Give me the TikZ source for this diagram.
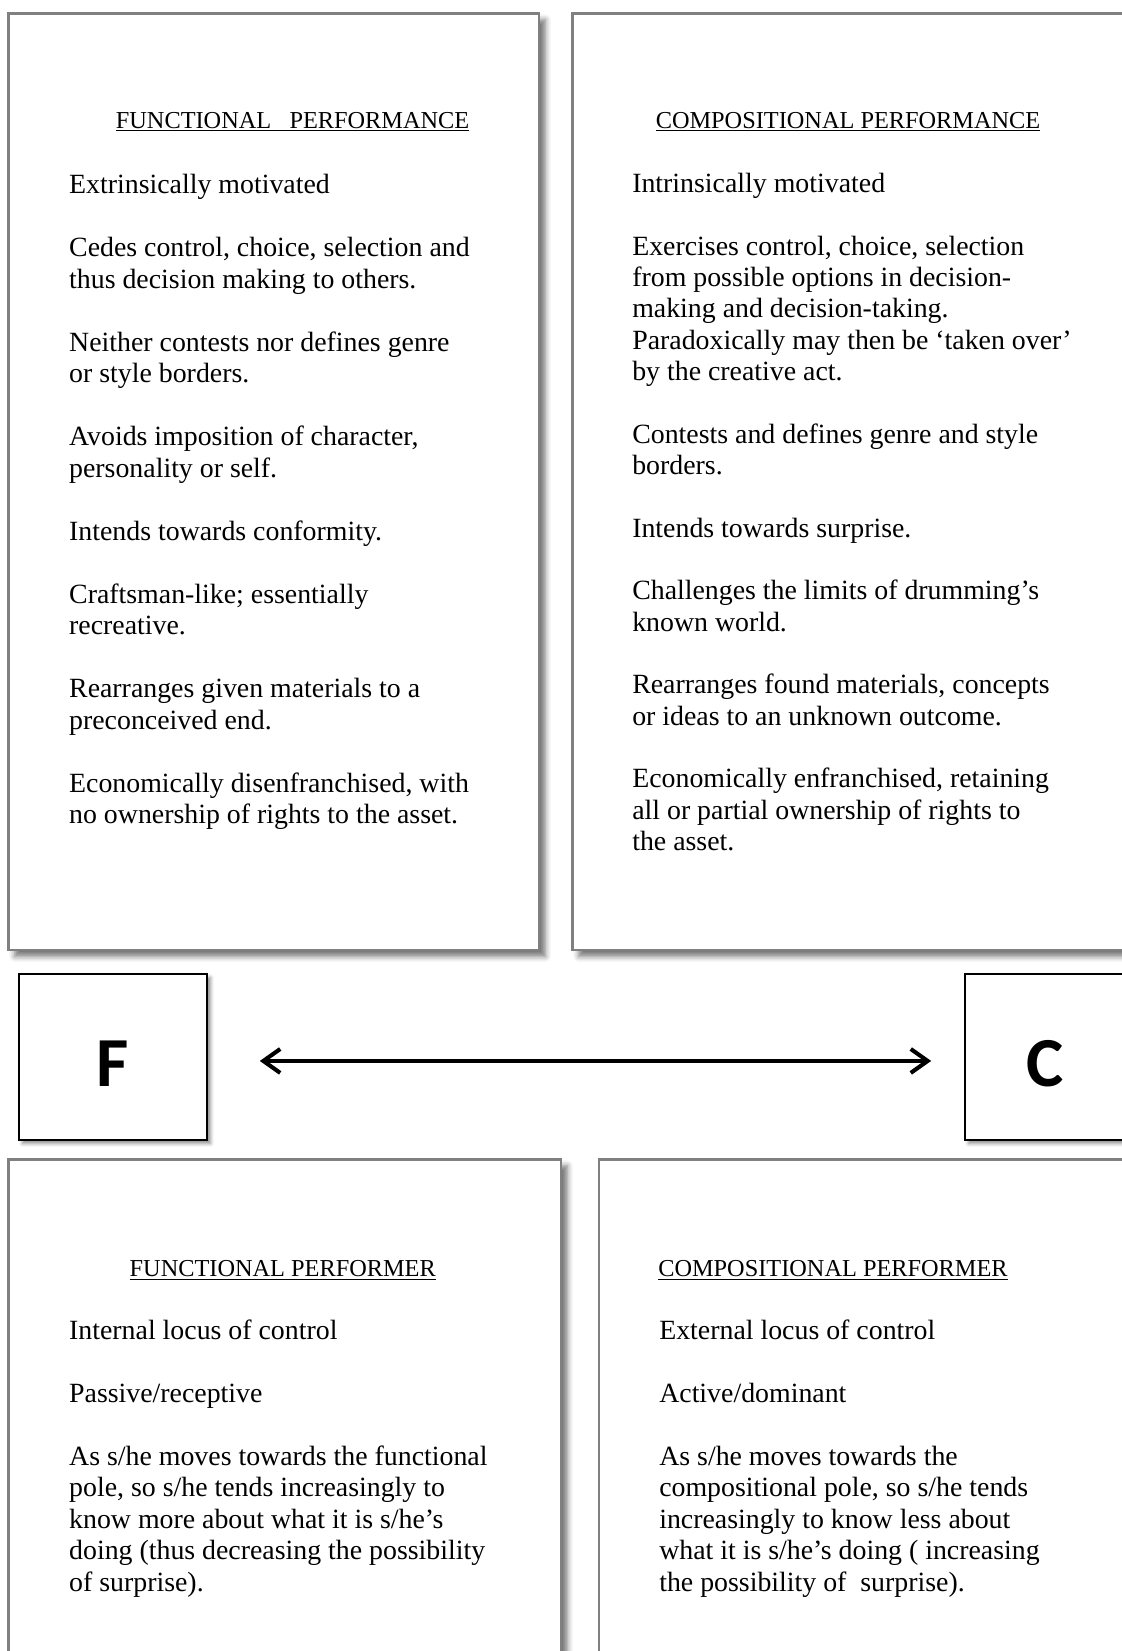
\documentclass[tikz,border=0pt]{standalone}
\usepackage{fontspec}
\setmainfont{Liberation Serif}
\newfontfamily\polefont{Carlito}
\usetikzlibrary{arrows.meta,shadows.blur}

\begin{document}
\begin{tikzpicture}[x=0.025cm,y=-0.025cm,
    >={Straight Barb[length=12pt,width=17pt]},
    panel/.style={draw=gray,line width=2.1pt,fill=white,
        blur shadow={shadow xshift=4.5pt,shadow yshift=-4.5pt,shadow blur radius=4pt,shadow opacity=55}},
    pole/.style={draw=black,line width=1.1pt,fill=white,inner sep=0pt,
        minimum height=118.1pt,text height=42.3pt,text depth=0pt,
        font=\polefont\bfseries\fontsize{50}{50}\selectfont,
        blur shadow={shadow xshift=2.5pt,shadow yshift=-2.5pt,shadow blur radius=2.5pt,shadow opacity=45}},
    heading/.style={anchor=base west,inner sep=0pt,font=\fontsize{17.3}{20}\selectfont},
    body/.style={anchor=base west,inner sep=0pt,align=left,font=\fontsize{19.8}{22.4}\selectfont},
    link/.style={<->,line width=2.9pt,line cap=round}]
    \useasboundingbox (0,0) rectangle (1122,1651);

    % Panels
    \draw[panel] (8.5,13.5) rectangle (539,950);
    \draw[panel] (572.5,13.5) rectangle (1140,950);
    \draw[panel] (8.5,1159.5) rectangle (561,1680);
    \draw[panel] (599,1159.5) rectangle (1140,1680);

    % Functional performance (body nodes sit on their last baseline)
    \node[heading] (fperfhead) at (115.6,128) {\underline{FUNCTIONAL\ \ \ PERFORMANCE}};
    \node[body] (fperf) at (68.9,823.5) {Extrinsically motivated\\[22.4pt]
        Cedes control, choice, selection and\\
        thus decision making to others.\\[22.4pt]
        Neither contests nor defines genre\\
        or style borders.\\[22.4pt]
        Avoids imposition of character,\\
        personality or self.\\[22.4pt]
        Intends towards conformity.\\[22.4pt]
        Craftsman-like; essentially\\
        recreative.\\[22.4pt]
        Rearranges given materials to a\\
        preconceived end.\\[22.4pt]
        Economically disenfranchised, with\\
        no ownership of rights to the asset.};

    % Compositional performance
    \node[heading] (cperfhead) at (655.5,128) {\underline{COMPOSITIONAL PERFORMANCE}};
    \node[body,font=\fontsize{19.8}{22.28}\selectfont] (cperf) at (632,850.6) {Intrinsically motivated\\[22.28pt]
        Exercises control, choice, selection\\
        from possible options in decision-\\
        making and decision-taking.\\
        Paradoxically may then be ‘taken over’\\
        by the creative act.\\[22.28pt]
        Contests and defines genre and style\\
        borders.\\[22.28pt]
        Intends towards surprise.\\[22.28pt]
        Challenges the limits of drumming’s\\
        known world.\\[22.28pt]
        Rearranges found materials, concepts\\
        or ideas to an unknown outcome.\\[22.28pt]
        Economically enfranchised, retaining\\
        all or partial ownership of rights to\\
        the asset.};

    % Poles
    \node[pole,minimum width=133.7pt] (F) at (113,1057) {F};
    \node[pole,minimum width=113.8pt] (C) at (1045,1057) {C};
    \draw[link,shorten <=37pt,shorten >=23.5pt] ([yshift=-2.8pt]F.east) -- ([yshift=-2.8pt]C.west);

    % Functional performer
    \node[heading] (fperfrhead) at (129.4,1276.7) {\underline{FUNCTIONAL PERFORMER}};
    \node[body] (fperfr) at (68.9,1591) {Internal locus of control\\[22.4pt]
        Passive/receptive\\[22.4pt]
        As s/he moves towards the functional\\
        pole, so s/he tends increasingly to\\
        know more about what it is s/he’s\\
        doing (thus decreasing the possibility\\
        of surprise).};

    % Compositional performer
    \node[heading] (cperfrhead) at (658,1276.7) {\underline{COMPOSITIONAL PERFORMER}};
    \node[body] (cperfr) at (659,1591) {External locus of control\\[22.4pt]
        Active/dominant\\[22.4pt]
        As s/he moves towards the\\
        compositional pole, so s/he tends\\
        increasingly to know less about\\
        what it is s/he’s doing ( increasing\\
        the possibility of \ surprise).};
\end{tikzpicture}
\end{document}
